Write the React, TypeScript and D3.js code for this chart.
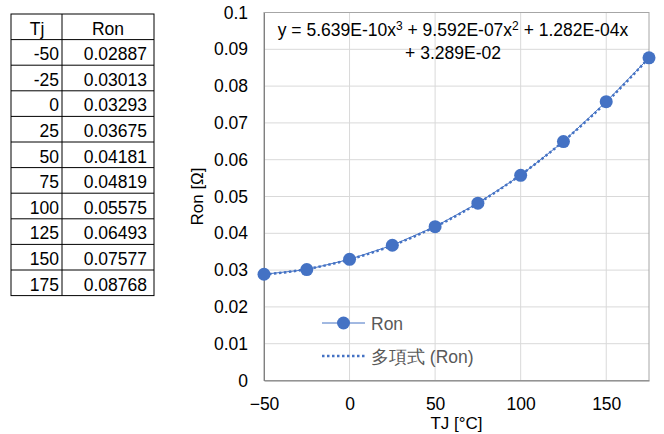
import React, { useRef, useEffect } from "react";
import * as d3 from "d3";

// data
const tj = [-50, -25, 0, 25, 50, 75, 100, 125, 150, 175];
const ron = [0.02887, 0.03013, 0.03293, 0.03675, 0.04181, 0.04819, 0.05575, 0.06493, 0.07577, 0.08768];
const ronLabels = ["0.02887", "0.03013", "0.03293", "0.03675", "0.04181", "0.04819", "0.05575", "0.06493", "0.07577", "0.08768"];
// trendline coefficients (x^3, x^2, x, const) as shown on the chart
const polyCoef = [5.639e-10, 9.592e-7, 1.282e-4, 3.289e-2];
const xTicks = [-50, 0, 50, 100, 150];
const yTicks = [0, 0.01, 0.02, 0.03, 0.04, 0.05, 0.06, 0.07, 0.08, 0.09, 0.1];

const BLUE = "#4472C4";
const FONT = "'Liberation Sans', Arial, sans-serif";
const FS = 17.5;

const App = () => {
  const svgRef = useRef<SVGSVGElement>(null);

  useEffect(() => {
    const svg = d3.select(svgRef.current);
    svg.selectAll("*").remove();
    const width = 664;
    const height = 434;
    svg.attr("viewBox", [0, 0, width, height]).style("font-family", FONT);

    // ---- table on the left
    const tbl = { left: 11, right: 154, mid: 62, top: 14, rowH: 25.6 };
    const nRows = tj.length + 1;
    const tg = svg.append("g").attr("font-size", FS).attr("fill", "#000");
    tg.append("rect")
      .attr("x", tbl.left)
      .attr("y", tbl.top)
      .attr("width", tbl.right - tbl.left)
      .attr("height", tbl.rowH * nRows)
      .attr("fill", "none")
      .attr("stroke", "#000");
    tg.append("line")
      .attr("x1", tbl.mid).attr("x2", tbl.mid)
      .attr("y1", tbl.top).attr("y2", tbl.top + tbl.rowH * nRows)
      .attr("stroke", "#000");
    d3.range(1, nRows).forEach((i) => {
      tg.append("line")
        .attr("x1", tbl.left).attr("x2", tbl.right)
        .attr("y1", tbl.top + i * tbl.rowH).attr("y2", tbl.top + i * tbl.rowH)
        .attr("stroke", "#000");
    });
    const rowY = (i: number) => tbl.top + (i + 1) * tbl.rowH - 5;
    tg.append("text").attr("x", 37).attr("y", rowY(0)).attr("text-anchor", "middle").text("Tj");
    tg.append("text").attr("x", 108).attr("y", rowY(0)).attr("text-anchor", "middle").text("Ron");
    tj.forEach((t, i) => {
      tg.append("text").attr("x", tbl.mid - 3).attr("y", rowY(i + 1)).attr("text-anchor", "end").text(t);
      tg.append("text").attr("x", tbl.right - 7).attr("y", rowY(i + 1)).attr("text-anchor", "end").text(ronLabels[i]);
    });

    // ---- chart
    const margin = { top: 12.5, right: 15, bottom: 53.5, left: 264 };
    const x = d3.scaleLinear().domain([-50, 175]).range([margin.left, width - margin.right]);
    const y = d3.scaleLinear().domain([0, 0.1]).range([height - margin.bottom, margin.top]);

    const grid = svg.append("g");
    grid.selectAll(".gx")
      .data(xTicks)
      .join("line")
      .attr("x1", (d) => x(d)).attr("x2", (d) => x(d))
      .attr("y1", y(0)).attr("y2", y(0.1))
      .attr("stroke", "#d9d9d9");
    grid.selectAll(".gy")
      .data(yTicks)
      .join("line")
      .attr("x1", x(-50)).attr("x2", x(175))
      .attr("y1", (d) => y(d)).attr("y2", (d) => y(d))
      .attr("stroke", "#d9d9d9");
    svg.append("rect")
      .attr("x", x(-50)).attr("y", y(0.1))
      .attr("width", x(175) - x(-50)).attr("height", y(0) - y(0.1))
      .attr("fill", "none").attr("stroke", "#a6a6a6");

    const xAxis = d3.axisBottom(x).tickValues(xTicks).tickSize(0).tickPadding(17).tickFormat(d3.format("d"));
    svg.append("g")
      .attr("transform", `translate(0,${y(0)})`)
      .call(xAxis)
      .call((g) => g.select(".domain").attr("stroke", "#808080"))
      .call((g) => g.selectAll("text").attr("font-size", FS).attr("fill", "#000").attr("font-family", FONT));

    const yAxis = d3.axisLeft(y).tickValues(yTicks).tickSize(0).tickPadding(16).tickFormat((d) => String(+(+d).toFixed(2)));
    svg.append("g")
      .attr("transform", `translate(${x(-50)},0)`)
      .call(yAxis)
      .call((g) => g.select(".domain").attr("stroke", "#808080"))
      .call((g) => g.selectAll("text").attr("font-size", FS).attr("fill", "#000").attr("font-family", FONT));

    // axis titles
    svg.append("text")
      .attr("x", (x(-50) + x(175)) / 2)
      .attr("y", 429)
      .attr("text-anchor", "middle")
      .attr("font-size", 17)
      .text("TJ [°C]");
    svg.append("text")
      .attr("transform", `translate(203,${(y(0) + y(0.1)) / 2}) rotate(-90)`)
      .attr("text-anchor", "middle")
      .attr("font-size", 17)
      .text("Ron [Ω]");

    // trendline
    const poly = (t: number) => ((polyCoef[0] * t + polyCoef[1]) * t + polyCoef[2]) * t + polyCoef[3];
    const trendX = x.ticks(90);
    const trend = d3.line<number>().x((d) => x(d)).y((d) => y(poly(d)));
    svg.append("path")
      .datum(trendX)
      .attr("d", trend)
      .attr("fill", "none")
      .attr("stroke", BLUE)
      .attr("stroke-width", 2.5)
      .attr("stroke-dasharray", "2.5,2.5");

    // data series
    const pts = tj.map((t, i) => [t, ron[i]] as [number, number]);
    const line = d3.line<[number, number]>().x((d) => x(d[0])).y((d) => y(d[1]));
    svg.append("path")
      .datum(pts)
      .attr("d", line)
      .attr("fill", "none")
      .attr("stroke", BLUE)
      .attr("stroke-width", 1);
    svg.append("g")
      .selectAll("circle")
      .data(pts)
      .join("circle")
      .attr("cx", (d) => x(d[0]))
      .attr("cy", (d) => y(d[1]))
      .attr("r", 6.5)
      .attr("fill", BLUE);

    // equation label
    const eq = svg.append("text").attr("font-size", FS).attr("fill", "#000").attr("text-anchor", "middle");
    const l1 = eq.append("tspan").attr("x", 453).attr("y", 36);
    l1.append("tspan").text("y = 5.639E-10x");
    l1.append("tspan").attr("dy", -6).attr("font-size", 12).text("3");
    l1.append("tspan").attr("dy", 6).text(" + 9.592E-07x");
    l1.append("tspan").attr("dy", -6).attr("font-size", 12).text("2");
    l1.append("tspan").attr("dy", 6).text(" + 1.282E-04x");
    eq.append("tspan").attr("x", 453).attr("y", 59).text("+ 3.289E-02");

    // legend
    const lg = svg.append("g").attr("font-size", FS).attr("fill", "#595959");
    lg.append("line").attr("x1", 322).attr("x2", 365).attr("y1", 323).attr("y2", 323).attr("stroke", BLUE);
    lg.append("circle").attr("cx", 343.5).attr("cy", 323).attr("r", 6.5).attr("fill", BLUE);
    lg.append("text").attr("x", 371).attr("y", 329.5).text("Ron");
    lg.append("line")
      .attr("x1", 322).attr("x2", 365).attr("y1", 356).attr("y2", 356)
      .attr("stroke", BLUE).attr("stroke-width", 2.5).attr("stroke-dasharray", "2.5,2.5");
    lg.append("text").attr("x", 371).attr("y", 362.5).text("多項式 (Ron)");
  }, []);

  return (
    <svg
      ref={svgRef}
      width="664"
      height="434"
      style={{ position: "absolute", left: 0, top: 0, background: "#fff" }}
    ></svg>
  );
};

export default App;
